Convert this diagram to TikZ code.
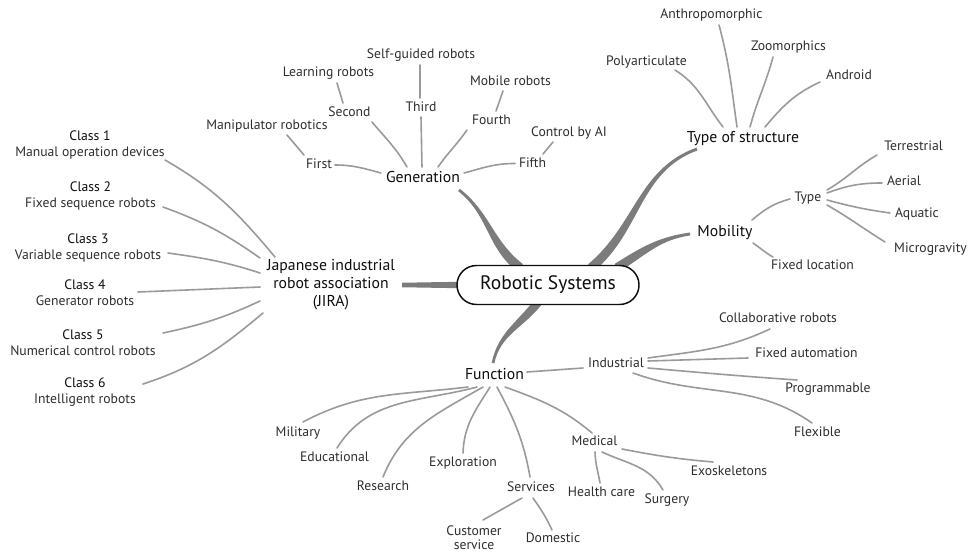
\documentclass[tikz,border=0pt]{standalone}
\usepackage{fontspec}
\setmainfont{PT Sans}
\usetikzlibrary{calc}

\definecolor{ink}{HTML}{2E2E2E}
\definecolor{inkdark}{HTML}{0E0E0E}
\definecolor{twiggray}{HTML}{9A9A9A}
\definecolor{limbgray}{HTML}{7C7C7C}

\pgfdeclarelayer{bg}
\pgfsetlayers{bg,main}

% Tapered main branch: #1 start anchor, #2 start offset, #3 end anchor, #4 end offset,
% #5 out angle, #6 in angle, #7 half width at start, #8 half width at end
\newcommand\drawlimb[8]{%
  \fill[limbgray] ($(#1)+(#2)+({#5+90}:#7)$) to[out=#5,in=#6] ($(#3)+(#4)+({#6-90}:#8)$)
    -- ($(#3)+(#4)+({#6+90}:#8)$) to[out=#6,in=#5] ($(#1)+(#2)+({#5-90}:#7)$) -- cycle;}

\tikzset{
  rootbox/.style={draw=inkdark, line width=1.1pt, fill=white, rounded corners=14.6pt,
    minimum width=136.5pt, minimum height=29.25pt, inner sep=0pt,
    font=\fontsize{14.6}{17}\selectfont, text=inkdark},
  mainlbl/.style={font=\fontsize{11.8}{13.5}\selectfont, text=inkdark, inner sep=1pt,
    text height=8.6pt, text depth=2.4pt},
  mainml/.style={font=\fontsize{11.8}{13.5}\selectfont, text=inkdark, inner sep=1pt, align=center},
  sublbl/.style={font=\fontsize{10.25}{12}\selectfont, text=ink, inner sep=1pt,
    text height=7.6pt, text depth=2pt},
  subml/.style={font=\fontsize{10.25}{12}\selectfont, text=ink, inner sep=1pt, align=center},
  twig/.style={draw=twiggray, line width=1.2pt, line cap=round}
}

\begin{document}
\begin{tikzpicture}[x=0.75pt,y=-0.75pt]
\useasboundingbox (0,0) rectangle (969,552);

% centre and main topics
\node[rootbox] (rs) at (548,285) {Robotic Systems};
\node[mainlbl] (gen) at (423,178) {Generation};
\node[mainlbl] (tos) at (743,138) {Type of structure};
\node[mainlbl] (mob) at (725,232) {Mobility};
\node[mainml] (jira) at (331,285) {Japanese industrial\\robot association\\(JIRA)};
\node[mainlbl] (fun) at (494.5,375) {Function};

% generation
\node[sublbl] (g1) at (319,165) {First};
\node[sublbl] (g2) at (349.5,113) {Second};
\node[sublbl] (g3) at (421,108) {Third};
\node[sublbl] (g4) at (491.5,121) {Fourth};
\node[sublbl] (g5) at (532.5,163.5) {Fifth};
\node[sublbl] (g1a) at (267,126) {Manipulator robotics};
\node[sublbl] (g2a) at (328.5,73) {Learning robots};
\node[sublbl] (g3a) at (421,55) {Self-guided robots};
\node[sublbl] (g4a) at (510.5,82) {Mobile robots};
\node[sublbl] (g5a) at (569,133) {Control by AI};

% type of structure
\node[sublbl] (t1) at (646.5,62) {Polyarticulate};
\node[sublbl] (t2) at (711.5,15) {Anthropomorphic};
\node[sublbl] (t3) at (788.5,47) {Zoomorphics};
\node[sublbl] (t4) at (849,76) {Android};

% mobility
\node[sublbl] (mty) at (808,198) {Type};
\node[sublbl] (mfx) at (812.5,266) {Fixed location};
\node[sublbl] (m1) at (913.5,147) {Terrestrial};
\node[sublbl] (m2) at (904,182) {Aerial};
\node[sublbl] (m3) at (917,214) {Aquatic};
\node[sublbl] (m4) at (930.5,249) {Microgravity};

% JIRA classes
\node[subml] (c1) at (90,145) {\textcolor{inkdark}{Class 1}\\Manual operation devices};
\node[subml] (c2) at (90.5,196) {\textcolor{inkdark}{Class 2}\\Fixed sequence robots};
\node[subml] (c3) at (88,248) {\textcolor{inkdark}{Class 3}\\Variable sequence robots};
\node[subml] (c4) at (85,293) {\textcolor{inkdark}{Class 4}\\Generator robots};
\node[subml] (c5) at (83,343) {\textcolor{inkdark}{Class 5}\\Numerical control robots};
\node[subml] (c6) at (85,392) {\textcolor{inkdark}{Class 6}\\Intelligent robots};

% function
\node[sublbl] (ind) at (616,364) {Industrial};
\node[sublbl] (mil) at (298,433) {Military};
\node[sublbl] (edu) at (334.5,458) {Educational};
\node[sublbl] (exp) at (463,463) {Exploration};
\node[sublbl] (res) at (383,487) {Research};
\node[sublbl] (ser) at (531,488) {Services};
\node[sublbl] (med) at (594.5,442) {Medical};
\node[sublbl] (hc) at (601.5,493) {Health care};
\node[sublbl] (sur) at (667,500) {Surgery};
\node[sublbl] (exo) at (729,472) {Exoskeletons};
\node[subml, font=\fontsize{10.25}{10.5}\selectfont] (cus) at (474,538) {Customer\\service};
\node[sublbl] (dom) at (553,539) {Domestic};
\node[sublbl] (i1) at (778,319) {Collaborative robots};
\node[sublbl] (i2) at (806.5,354) {Fixed automation};
\node[sublbl] (i3) at (828,389) {Programmable};
\node[sublbl] (i4) at (817.5,433) {Flexible};

% thick branches from the centre
\begin{pgfonlayer}{bg}
\fill[white] (0,0) rectangle (969,552);
\drawlimb{rs.north}{-28,3}{gen}{36,12}{142}{-38}{3.5pt}{1.05pt}
\drawlimb{rs.north}{43,3}{tos}{-46,11}{40}{200}{3.4pt}{1.1pt}
\drawlimb{rs.north}{69,3}{mob}{-35,2}{32}{188}{3.4pt}{1.1pt}
\drawlimb{rs.south}{-10,-3}{fun}{-1.5,-12}{232}{78}{3.2pt}{1pt}
\drawlimb{rs.west}{3,0}{jira}{71,0}{180}{0}{2.3pt}{1.8pt}
\end{pgfonlayer}

% generation links
\draw[twig] ($(gen)+(-42,-5)$) to[out=165,in=0] ($(g1)+(16,0)$);
\draw[twig] ($(gen)+(-16,-11)$) to[out=120,in=-50] ($(g2)+(22.5,9)$);
\draw[twig] ($(gen)+(-1,-11)$) -- ($(g3)+(0,9)$);
\draw[twig] ($(gen)+(15,-11)$) to[out=55,in=-125] ($(g4)+(-24.5,9)$);
\draw[twig] ($(gen)+(41,-5)$) to[out=15,in=180] ($(g5)+(-17.5,0)$);
\draw[twig] ($(g1)+(-15,-10)$) -- ($(g1a)+(20,9)$);
\draw[twig] ($(g2)+(-6.5,-10)$) -- ($(g2a)+(8.5,10)$);
\draw[twig] ($(g3)+(-1,-10)$) -- ($(g3a)+(-1,10)$);
\draw[twig] ($(g4)+(4.5,-10)$) -- ($(g4a)+(-7.5,9)$);
\draw[twig] ($(g5)+(10.5,-9.5)$) -- ($(g5a)+(-16,9)$);

% type of structure links
\draw[twig] ($(tos)+(-20,-11)$) to[out=128,in=-32] ($(t1)+(28.5,8)$);
\draw[twig] ($(tos)+(-6,-11)$) to[out=98,in=-75] ($(t2)+(7.5,10)$);
\draw[twig] ($(tos)+(7,-11)$) to[out=75,in=-105] ($(t3)+(-15.5,10)$);
\draw[twig] ($(tos)+(22,-11)$) to[out=50,in=205] ($(t4)+(-29,6)$);

% mobility links
\draw[twig] ($(mob)+(27,-12)$) to[out=40,in=195] ($(mty)+(-18,1)$);
\draw[twig] ($(mob)+(28,11)$) to[out=-35,in=150] ($(mfx)+(-39.5,-9)$);
\draw[twig] ($(mty)+(19,-8)$) to[out=30,in=210] ($(m1)+(-36.5,8)$);
\draw[twig] ($(mty)+(19,-5)$) to[out=20,in=180] ($(m2)+(-22,1)$);
\draw[twig] ($(mty)+(19,2)$) to[out=-15,in=172] ($(m3)+(-27,-1)$);
\draw[twig] ($(mty)+(19,7)$) to[out=-30,in=148] ($(m4)+(-45.5,-7)$);

% JIRA links
\draw[twig] ($(jira)+(-56,-28)$) to[out=130,in=-30] ($(c1)+(75,15)$);
\draw[twig] ($(jira)+(-71,-27)$) to[out=145,in=-20] ($(c2)+(72.5,11)$);
\draw[twig] ($(jira)+(-71,-12)$) to[out=162,in=-8] ($(c3)+(80,5)$);
\draw[twig] ($(jira)+(-71,2)$) -- ($(c4)+(53,-1)$);
\draw[twig] ($(jira)+(-71,16)$) to[out=205,in=12] ($(c5)+(80,-10)$);
\draw[twig] ($(jira)+(-68,28)$) to[out=220,in=18] ($(c6)+(58,-8)$);

% function links
\draw[twig] ($(fun)+(32.5,-3)$) -- ($(ind)+(-33,4)$);
\draw[twig] ($(fun)+(-26.5,12)$) to[out=187,in=28] ($(mil)+(5,-11)$);
\draw[twig] ($(fun)+(-17.5,12)$) to[out=195,in=58] ($(edu)+(2.5,-10)$);
\draw[twig] ($(fun)+(-11.5,12)$) to[out=210,in=68] ($(res)+(0,-10)$);
\draw[twig] ($(fun)+(-4.5,12)$) to[out=238,in=88] ($(exp)+(0,-10)$);
\draw[twig] ($(fun)+(2.5,12)$) to[out=-62,in=100] ($(ser)+(-1,-11)$);
\draw[twig] ($(fun)+(10.5,12)$) to[out=-20,in=140] ($(med)+(-2.5,-9)$);
\draw[twig] ($(med)+(0.5,10)$) to[out=-88,in=100] ($(hc)+(-1.5,-10)$);
\draw[twig] ($(med)+(7.5,10)$) to[out=-25,in=120] ($(sur)+(-4,-10)$);
\draw[twig] ($(med)+(27.5,7)$) to[out=-11,in=175] ($(exo)+(-16,-10)$);
\draw[twig] ($(ser)+(-9,10)$) -- ($(cus)+(9,-18)$);
\draw[twig] ($(ser)+(2,10)$) to[out=-55,in=115] ($(dom)+(-1,-9)$);

% industrial links
\draw[twig] ($(ind)+(32,-6)$) to[out=8,in=-155] ($(i1)+(-8,10)$);
\draw[twig] ($(ind)+(32,-3)$) -- ($(i2)+(-58.5,4)$);
\draw[twig] ($(ind)+(32,4)$) to[out=-5,in=176] ($(i3)+(-31,-9)$);
\draw[twig] ($(ind)+(17,9)$) to[out=-20,in=145] ($(i4)+(-5.5,-10)$);
\end{tikzpicture}
\end{document}
